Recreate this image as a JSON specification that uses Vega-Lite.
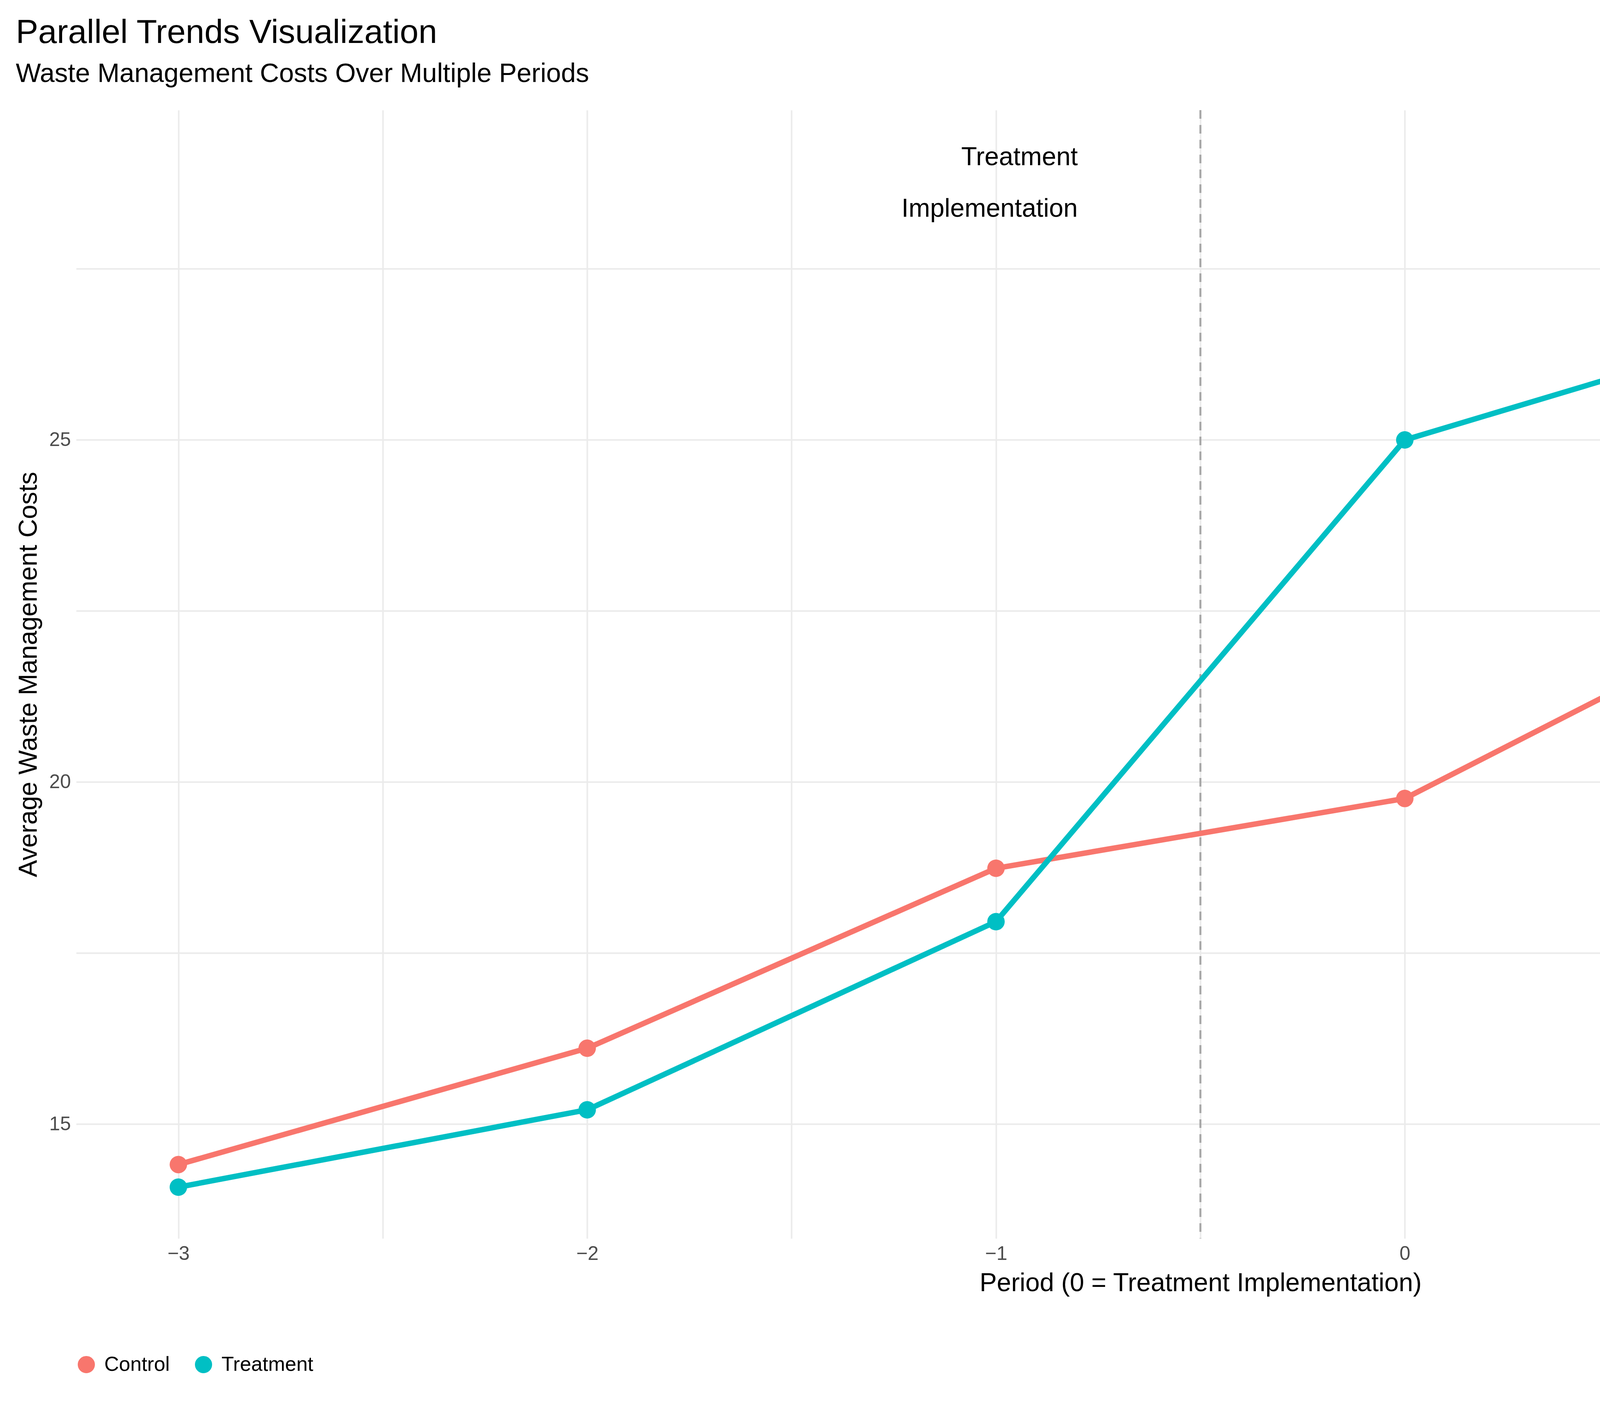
{
"$schema":"https://vega.github.io/schema/vega-lite/v6.json",
"width":6000,"height":3600,
"autosize":{"type":"fit","contains":"padding"},
"padding":{"left":40,"top":40,"right":49,"bottom":80},
"background":"white",
"title":{"text":"Parallel Trends Visualization","subtitle":"Waste Management Costs Over Multiple Periods","anchor":"start","frame":"bounds","offset":55,"font":"Liberation Sans","fontSize":86,"fontWeight":"normal","color":"black","subtitleFont":"Liberation Sans","subtitleFontSize":68,"subtitleColor":"black","subtitlePadding":28},
"config":{"view":{"stroke":null},"font":"Liberation Sans",
 "axis":{"domain":false,"ticks":false,"gridColor":"#EBEBEB","gridWidth":4,"labelFontSize":50,"labelColor":"#4D4D4D","titleFontSize":66,"titleFontWeight":"normal","titleColor":"black","labelPadding":14,"titlePadding":18}},
"datasets":{"d":[
{"period":-3,"group":"Control","cost":14.41},{"period":-2,"group":"Control","cost":16.11},{"period":-1,"group":"Control","cost":18.74},{"period":0,"group":"Control","cost":19.76},{"period":1,"group":"Control","cost":22.81},{"period":2,"group":"Control","cost":23.66},
{"period":-3,"group":"Treatment","cost":14.08},{"period":-2,"group":"Treatment","cost":15.21},{"period":-1,"group":"Treatment","cost":17.96},{"period":0,"group":"Treatment","cost":25.0},{"period":1,"group":"Treatment","cost":26.79},{"period":2,"group":"Treatment","cost":29.07}]},
"layer":[
{"data":{"values":[{"x":-0.5}]},"mark":{"type":"rule","strokeDash":[22,16],"strokeWidth":5,"color":"#A6A6A6"},"encoding":{"x":{"field":"x","type":"quantitative"}}},
{"data":{"name":"d"},"mark":{"type":"line","strokeWidth":14},
 "encoding":{"x":{"field":"period","type":"quantitative","scale":{"domain":[-3.25,2.25],"nice":false,"zero":false},"axis":{"values":[-3,-2.5,-2,-1.5,-1,-0.5,0,0.5,1,1.5,2],"labelExpr":"datum.value % 1 == 0 ? format(datum.value, 'd') : ''","title":"Period (0 = Treatment Implementation)"}},
 "y":{"field":"cost","type":"quantitative","scale":{"domain":[13.33,29.82],"nice":false,"zero":false},"axis":{"values":[15,17.5,20,22.5,25,27.5],"labelExpr":"datum.value % 5 == 0 ? format(datum.value, 'd') : ''","title":"Average Waste Management Costs"}},
 "color":{"field":"group","type":"nominal","scale":{"domain":["Control","Treatment"],"range":["#F8766D","#00BFC4"]},"legend":{"orient":"bottom","direction":"horizontal","title":null,"offset":150,"labelFontSize":52,"labelColor":"black","labelLimit":800,"symbolType":"circle","symbolSize":1800,"columnPadding":60,"labelOffset":20}}}},
{"data":{"name":"d"},"mark":{"type":"point","filled":true,"opacity":1,"size":2000},
 "encoding":{"x":{"field":"period","type":"quantitative"},"y":{"field":"cost","type":"quantitative"},"color":{"field":"group","type":"nominal"}}},
{"data":{"values":[{"x":-0.8,"y":29.47,"t":"Treatment\nImplementation"}]},"mark":{"type":"text","align":"right","baseline":"middle","fontSize":66,"lineBreak":"\n","lineHeight":132,"dy":60,"color":"black"},
 "encoding":{"x":{"field":"x","type":"quantitative"},"y":{"field":"y","type":"quantitative"},"text":{"field":"t"}}}
]}
